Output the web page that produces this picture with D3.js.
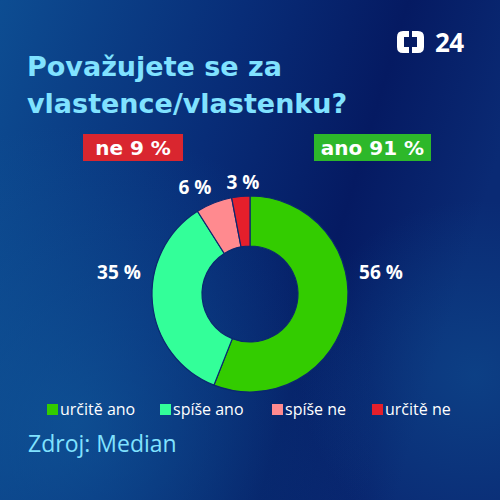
<!DOCTYPE html>
<html><head><meta charset="utf-8">
<script src="https://cdn.jsdelivr.net/npm/d3@7"></script>
<style>html,body{margin:0;padding:0;background:#061c62;}svg{display:block;}</style>
</head><body>
<script>
const categories = ["určitě ano", "spíše ano", "spíše ne", "určitě ne"];
const values = [56, 35, 6, 3];
const labels = ["56 %", "35 %", "6 %", "3 %"];
const colors = ["#33cc00", "#33ff99", "#ff8a8f", "#e51f2b"];
const groups = ["ne 9 %", "ano 91 %"];
const groupColors = ["#d9262f", "#2db82a"];
const titleLines = ["Považujete se za", "vlastence/vlastenku?"];
const source = "Zdroj: Median";

const W = 500, H = 500;
const svg = d3.select("body").append("svg").attr("width", W).attr("height", H);
const defs = svg.append("defs");
const lg = defs.append("linearGradient").attr("id", "bg").attr("x1", "0").attr("y1", "0").attr("x2", "1").attr("y2", "0.3");
lg.append("stop").attr("offset", "0").attr("stop-color", "#0d4d92");
lg.append("stop").attr("offset", "0.45").attr("stop-color", "#082d78");
lg.append("stop").attr("offset", "0.75").attr("stop-color", "#051a62");
lg.append("stop").attr("offset", "1").attr("stop-color", "#0a2a74");
svg.append("rect").attr("width", W).attr("height", H).attr("fill", "url(#bg)");
const rg = defs.append("radialGradient").attr("id", "glow").attr("cx", "0.15").attr("cy", "0.85").attr("r", "0.6");
rg.append("stop").attr("offset", "0").attr("stop-color", "#1160a0").attr("stop-opacity", 0.6);
rg.append("stop").attr("offset", "1").attr("stop-color", "#1160a0").attr("stop-opacity", 0);
svg.append("rect").attr("width", W).attr("height", H).attr("fill", "url(#glow)");
const rg2 = defs.append("radialGradient").attr("id", "glow2").attr("cx", "0.95").attr("cy", "0.75").attr("r", "0.35");
rg2.append("stop").attr("offset", "0").attr("stop-color", "#0f5596").attr("stop-opacity", 0.5);
rg2.append("stop").attr("offset", "1").attr("stop-color", "#0f5596").attr("stop-opacity", 0);
svg.append("rect").attr("width", W).attr("height", H).attr("fill", "url(#glow2)");

const font = "'Open Sans', 'Noto Sans', sans-serif";
const wide = "'DejaVu Sans', 'Open Sans', sans-serif";

// logo
const logo = svg.append("g").attr("transform", "translate(397,31)");
logo.append("path").attr("d", "M12,0 H6 Q0,0 0,6 V16 Q0,22 6,22 H12 V16 H7 V6 H12 Z").attr("fill", "#fff");
logo.append("path").attr("d", "M15,0 H21 Q27,0 27,6 V16 Q27,22 21,22 H15 V16 H20 V6 H15 Z").attr("fill", "#fff");
logo.append("text").attr("x", 38).attr("y", 21).attr("font-family", font).attr("font-weight", 700)
  .attr("font-size", 26).attr("fill", "#fff").attr("letter-spacing", -0.5).text("24");

// title
svg.append("g").selectAll("text").data(titleLines).join("text")
  .attr("x", 27).attr("y", (d, i) => 76 + i * 37)
  .attr("font-family", wide).attr("font-weight", 700).attr("font-size", 27)
  .attr("fill", "#80e2ff").text(d => d);

// group badges
const badgeX = [83, 314], badgeW = [100, 117];
groups.forEach((g, i) => {
  svg.append("rect").attr("x", badgeX[i]).attr("y", 134).attr("width", badgeW[i]).attr("height", 27).attr("fill", groupColors[i]);
  svg.append("text").attr("x", badgeX[i] + badgeW[i] / 2).attr("y", 155).attr("text-anchor", "middle")
    .attr("font-family", wide).attr("font-weight", 700).attr("font-size", 20).attr("fill", "#fff").text(g);
});

// donut
const cx = 250, cy = 294, rOut = 98, rIn = 48;
const pie = d3.pie().sort(null).value(d => d)(values);
const arc = d3.arc().innerRadius(rIn).outerRadius(rOut);
const g = svg.append("g").attr("transform", `translate(${cx},${cy})`);
g.selectAll("path").data(pie).join("path").attr("d", arc)
  .attr("fill", (d, i) => colors[i]).attr("stroke", "#0a2870").attr("stroke-width", 1.2);

// labels
const labelPos = [[381, 279], [119, 279], [195, 194], [243, 189]];
svg.append("g").selectAll("text").data(pie).join("text")
  .attr("x", (d, i) => labelPos[i][0]).attr("y", (d, i) => labelPos[i][1])
  .attr("text-anchor", "middle").attr("font-family", font).attr("font-weight", 700)
  .attr("font-size", 19).attr("fill", "#fff").text((d, i) => labels[i]);

// legend
const legX = [47, 160, 272, 372];
const leg = svg.append("g").selectAll("g").data(categories).join("g")
  .attr("transform", (d, i) => `translate(${legX[i]},0)`);
leg.append("rect").attr("x", 0).attr("y", 404).attr("width", 11).attr("height", 11).attr("fill", (d, i) => colors[i]);
leg.append("text").attr("x", 13).attr("y", 415).attr("font-family", font).attr("font-size", 16)
  .attr("fill", "#fff").text(d => d);

// source
svg.append("text").attr("x", 28).attr("y", 452).attr("font-family", font).attr("font-size", 23)
  .attr("fill", "#80e2ff").text(source);
</script>
</body></html>
